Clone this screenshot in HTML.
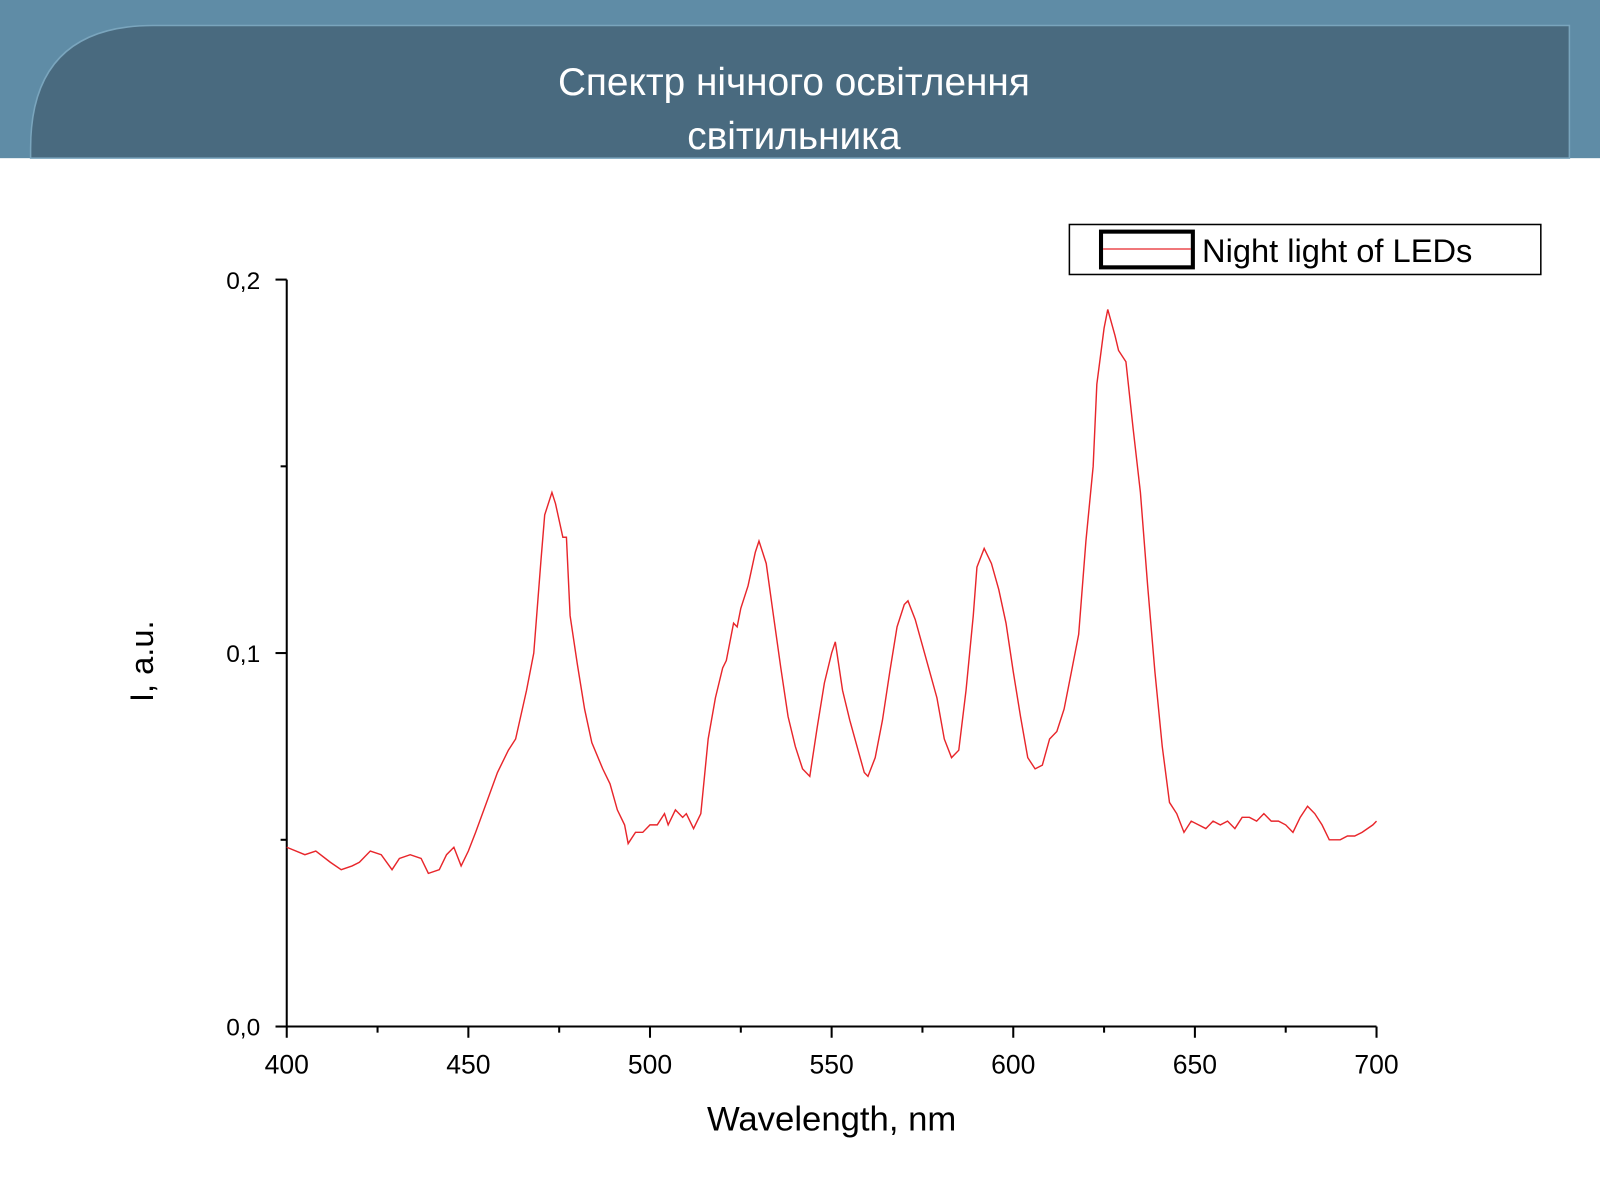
<!DOCTYPE html>
<html><head><meta charset="utf-8"><style>
html,body{margin:0;padding:0;background:#fff;}
svg{display:block;font-family:"Liberation Sans","DejaVu Sans",sans-serif;}
</style></head><body>
<svg width="1600" height="1200" viewBox="0 0 1568 1176" preserveAspectRatio="none" xmlns="http://www.w3.org/2000/svg">
<g>
<rect x="0" y="0" width="1568" height="155" fill="#5f8ca6"/>
<path d="M30 155 L30 145 Q30 25 150 25 L1538 25 L1538 155 Z" fill="#496a7f" stroke="#7aa5bd" stroke-width="1.5"/>
<text x="778" y="93" fill="#fff" font-size="38" text-anchor="middle">Спектр нічного освітлення</text>
<text x="778" y="146" fill="#fff" font-size="38" text-anchor="middle">світильника</text>
</g>
<g id="axes"></g>
<g id="plot"></g>
<g>
<rect x="1048" y="220" width="462" height="49" fill="#fff" stroke="#000" stroke-width="1.5"/>
<rect x="1079" y="227" width="90" height="35" fill="none" stroke="#000" stroke-width="4"/>
<line x1="1081" y1="244" x2="1167" y2="244" stroke="#e8262b" stroke-width="1.2"/>
<text x="1178" y="257" font-size="32" fill="#000">Night light of LEDs</text>
</g>
<text x="815" y="1108" font-size="34" text-anchor="middle">Wavelength, nm</text>
<text transform="translate(150,648) rotate(-90)" font-size="32" text-anchor="middle">I, a.u.</text>
</svg>
<script>
const wavelengths=[400,405,408,412,415,418,420,423,426,429,431,434,437,439,442,444,446,448,450,452,455,458,461,463,466,468,470,471,473,474,476,477,478,480,482,484,487,489,491,493,494,496,498,500,502,504,505,507,509,510,512,514,516,518,520,521,523,524,525,527,529,530,532,534,536,538,540,542,544,546,548,550,551,553,555,557,559,560,562,564,566,568,570,571,573,575,577,579,581,583,585,587,589,590,592,594,596,598,600,602,604,606,608,610,612,614,616,618,620,622,623,625,626,628,629,631,633,635,637,639,641,643,645,647,649,651,653,655,657,659,661,663,665,667,669,671,673,675,677,679,681,683,685,687,690,692,694,696,699,700];
const intensity=[0.048,0.046,0.047,0.044,0.042,0.043,0.044,0.047,0.046,0.042,0.045,0.046,0.045,0.041,0.042,0.046,0.048,0.043,0.047,0.052,0.060,0.068,0.074,0.077,0.090,0.100,0.125,0.137,0.143,0.140,0.131,0.131,0.110,0.097,0.085,0.076,0.069,0.065,0.058,0.054,0.049,0.052,0.052,0.054,0.054,0.057,0.054,0.058,0.056,0.057,0.053,0.057,0.077,0.088,0.096,0.098,0.108,0.107,0.112,0.118,0.127,0.130,0.124,0.110,0.096,0.083,0.075,0.069,0.067,0.080,0.092,0.100,0.103,0.090,0.082,0.075,0.068,0.067,0.072,0.082,0.095,0.107,0.113,0.114,0.109,0.102,0.095,0.088,0.077,0.072,0.074,0.090,0.110,0.123,0.128,0.124,0.117,0.108,0.095,0.083,0.072,0.069,0.070,0.077,0.079,0.085,0.095,0.105,0.130,0.150,0.172,0.187,0.192,0.185,0.181,0.178,0.160,0.143,0.118,0.095,0.075,0.060,0.057,0.052,0.055,0.054,0.053,0.055,0.054,0.055,0.053,0.056,0.056,0.055,0.057,0.055,0.055,0.054,0.052,0.056,0.059,0.057,0.054,0.050,0.050,0.051,0.051,0.052,0.054,0.055];
const xTicks=[400,450,500,550,600,650,700];
const xMinor=[425,475,525,575,625,675];
const yTicks=[0,0.1,0.2];
const yTickLabels=["0,0","0,1","0,2"];
const yMinor=[0.05,0.15];
const NS="http://www.w3.org/2000/svg";
const X0=281,X1=1349,Y0=1006,Y1=274;
function sx(v){return X0+(v-400)/(700-400)*(X1-X0);}
function sy(v){return Y0-(v-0)/(0.2)*(Y0-Y1);}
function mk(t,a,p){const e=document.createElementNS(NS,t);for(const k in a)e.setAttribute(k,a[k]);p.appendChild(e);return e;}
const ax=document.getElementById('axes');
const xl=mk('line',{x1:X0,y1:Y0,x2:X1,y2:Y0,stroke:'#000','stroke-width':2},ax);


const yl=mk('line',{x1:X0,y1:Y0,x2:X0,y2:Y1,stroke:'#000','stroke-width':2},ax);


xTicks.forEach(v=>{mk('line',{x1:sx(v),y1:Y0,x2:sx(v),y2:Y0+11,stroke:'#000','stroke-width':2},ax);
const t=mk('text',{x:sx(v),y:Y0+46,'font-size':26,'text-anchor':'middle'},ax);t.textContent=v;

});
xMinor.forEach(v=>mk('line',{x1:sx(v),y1:Y0,x2:sx(v),y2:Y0+6,stroke:'#000','stroke-width':2},ax));
yTicks.forEach((v,i)=>{mk('line',{x1:X0-11,y1:sy(v),x2:X0,y2:sy(v),stroke:'#000','stroke-width':2},ax);
const t=mk('text',{x:X0-26,y:sy(v)+9,'font-size':24,'text-anchor':'end'},ax);t.textContent=yTickLabels[i];

});
yMinor.forEach(v=>mk('line',{x1:X0-6,y1:sy(v),x2:X0,y2:sy(v),stroke:'#000','stroke-width':2},ax));
const d=wavelengths.map((w,i)=>(i?'L':'M')+sx(w).toFixed(1)+' '+sy(intensity[i]).toFixed(1)).join(' ');
const ln=mk('path',{d:d,fill:'none',stroke:'#e8262b','stroke-width':1.4},document.getElementById('plot'));


</script>
</body></html>
